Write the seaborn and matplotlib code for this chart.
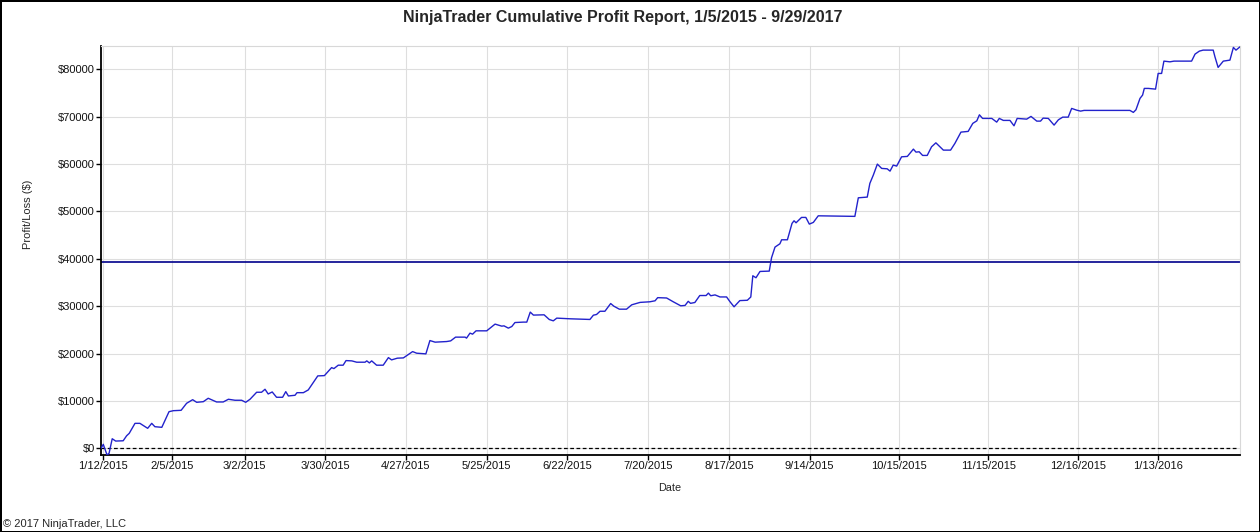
import pandas as pd
import numpy as np
import seaborn as sns
import matplotlib.pyplot as plt
import matplotlib.dates as mdates

# cumulative profit (days counted from 1/12/2015)
start = "2015-01-12"
day = [-0.8, 0, 1.3, 2, 3.1, 4.3, 6.9, 8.1, 9, 11, 12.7, 15.4, 16.8, 17.9, 20.3, 22.8, 24.3, 27, 28.9, 31,
       32.4, 34.7, 36.4, 39.3, 41.6, 43.4, 45.7, 48, 49.4, 50.9, 53.2, 54.9, 56.1, 57.2, 58.6, 60.1, 62.2,
       63.3, 64.2, 66.5, 67.2, 69.4, 71.1, 74.4, 76.7, 79.2, 80, 81.5, 83.2, 84.2, 86.2, 87.9, 90.8, 91.4,
       92.3, 93.1, 94.8, 97.1, 98.9, 100, 102, 104.1, 107.3, 108.7, 111.9, 113.3, 115.1, 119.1, 120.5,
       122.2, 125.5, 126, 127.2, 128.1, 129.3, 133, 135.9, 138.2, 139, 140.5, 141.7, 142.8, 145.7, 146.9,
       148.1, 149.2, 152.9, 154.7, 156.1, 157.3, 161.9, 168.8, 170, 171.1, 172.3, 174, 176, 177.1, 179,
       181.5, 183.3, 186.2, 189.6, 191.4, 192.3, 195.4, 197.7, 200.3, 201.8, 202.9, 203.7, 205.2, 206.9,
       209.1, 209.9, 210.7, 212.2, 213.9, 216.2, 217.4, 218.8, 220.8, 223.4, 224.6, 225.3, 226.4, 227.8,
       231, 231.8, 233, 234.7, 235.3, 237.3, 238.9, 239.6, 240.3, 242.2, 243.7, 244.9, 246.3, 248, 260.7,
       261.9, 265, 265.9, 267.1, 268.5, 270, 271.9, 272.9, 274, 275.2, 276.9, 278.9, 281, 281.9, 283,
       284.2, 285.8, 287.3, 288.8, 291.4, 293.9, 295.4, 297.5, 300, 301.6, 303, 303.9, 305, 308.2, 309.9,
       310.8, 312.2, 314.5, 315.9, 317, 320.3, 321.8, 323.8, 325.1, 326, 327.8, 329.8, 331.3, 332.8, 334.7,
       335.9, 337.6, 339, 340.2, 356.1, 357.3, 358.2, 359.6, 360.5, 361.1, 362.5, 365, 365.9, 367.1, 367.9,
       370, 371.4, 377.5, 378.7, 380.2, 381.5, 385, 385.6, 386.7, 388.5, 390.8, 392, 392.9, 394.3]
profit = [0, 850, -1400, -1050, 2030, 1540, 1600, 2660, 3170, 5280, 5280, 4230, 5280, 4570, 4440, 7740, 7950,
          8030, 9510, 10270, 9720, 9850, 10570, 9790, 9790, 10360, 10150, 10150, 9720, 10360, 11840, 11840,
          12470, 11480, 11900, 10780, 10780, 11970, 11060, 11200, 11750, 11750, 12330, 15290, 15350, 17040,
          16830, 17550, 17550, 18520, 18460, 18180, 18180, 18460, 18030, 18460, 17550, 17550, 19150, 18670,
          19030, 19090, 20420, 20080, 19940, 22750, 22410, 22540, 22680, 23470, 23470, 23260, 24310, 24100,
          24800, 24800, 26220, 25790, 25850, 25370, 25710, 26550, 26640, 26640, 28750, 28120, 28180, 27190,
          26910, 27480, 27340, 27200, 28100, 28250, 28930, 28930, 30560, 30000, 29370, 29370, 30290, 30800,
          30930, 31140, 31800, 31730, 30930, 30080, 30160, 31030, 30600, 30780, 32250, 32250, 32760, 32200,
          32380, 31950, 31950, 30930, 29870, 31180, 31250, 31940, 36420, 36000, 37330, 37400, 40230, 42470,
          43170, 44010, 44010, 47470, 48020, 47600, 48730, 48730, 47320, 47680, 49070, 48950, 52870, 53020,
          55910, 57660, 59980, 59070, 58990, 58500, 59770, 59560, 61520, 61600, 63140, 62510, 62580, 61810,
          61810, 63630, 64470, 62930, 62930, 64350, 66730, 66880, 68570, 69110, 70380, 69620, 69620, 68840,
          69620, 69200, 69200, 68060, 69620, 69470, 70040, 69050, 69050, 69680, 69620, 68210, 69330, 69890,
          69890, 71730, 71370, 71160, 71310, 71310, 70890, 71440, 73840, 74540, 75950, 75950, 75800, 79110,
          79110, 81710, 81560, 81710, 81710, 83190, 83820, 84030, 84030, 82620, 80380, 81710, 81920, 84600,
          84030, 84730]
avg_line = 39300

tick_dates = ["2015-01-12", "2015-02-05", "2015-03-02", "2015-03-30", "2015-04-27", "2015-05-25",
              "2015-06-22", "2015-07-20", "2015-08-17", "2015-09-14", "2015-10-15", "2015-11-15",
              "2015-12-16", "2016-01-13"]
tick_labels = ["1/12/2015", "2/5/2015", "3/2/2015", "3/30/2015", "4/27/2015", "5/25/2015", "6/22/2015",
               "7/20/2015", "8/17/2015", "9/14/2015", "10/15/2015", "11/15/2015", "12/16/2015", "1/13/2016"]
y_ticks = [0, 10000, 20000, 30000, 40000, 50000, 60000, 70000, 80000]

df = pd.DataFrame({"Date": pd.Timestamp(start) + pd.to_timedelta(day, unit="D"), "Profit": profit})

sns.set_style("whitegrid")
plt.rcParams['font.family'] = ['Liberation Sans', 'DejaVu Sans']

fig = plt.figure(figsize=(12.6, 5.32), dpi=100)
fig.patch.set_edgecolor("black")
fig.patch.set_linewidth(2)
ax = fig.add_axes([101/1260, 1 - 455/532, (1240-101)/1260, (455-46)/532])

ax.axhline(0, color="black", linestyle=(0, (3, 2)), linewidth=0.9, xmax=0.997, zorder=2)
ax.axhline(avg_line, color="#00008b", linewidth=1.2, zorder=2)
sns.lineplot(data=df, x="Date", y="Profit", color="#2222cc", linewidth=1.0, estimator=None, sort=False, ax=ax, zorder=3)

ax.set_xlim(pd.Timestamp("2015-01-11 05:00"), pd.Timestamp("2016-02-10 07:00"))
ax.set_ylim(-1400, 84900)
ax.set_xticks(pd.to_datetime(tick_dates))
ax.set_xticklabels(tick_labels)
ax.set_yticks(y_ticks)
ax.set_yticklabels(["$" + str(v) for v in y_ticks])

ax.grid(True, color="#dedede", linewidth=0.8)
for s in ["top", "right"]:
    ax.spines[s].set_color("#d8d8d8")
    ax.spines[s].set_linewidth(0.8)
for s in ["left", "bottom"]:
    ax.spines[s].set_color("black")
    ax.spines[s].set_linewidth(1.3)
ax.tick_params(axis="both", which="major", length=3.5, width=1, color="black", labelsize=8, pad=1,
               bottom=True, left=True, labelcolor="#111111")
ax.set_xlabel("")
ax.set_ylabel("")

fig.text(0.494, 0.968, "NinjaTrader Cumulative Profit Report, 1/5/2015 - 9/29/2017", ha="center", va="center",
         fontsize=11.5, fontweight="bold")
fig.text(670/1260, 1 - 488/532, "Date", ha="center", va="center", fontsize=7.8)
fig.text(28/1260, 1 - 214/532, "Profit/Loss ($)", ha="center", va="center", rotation=90, fontsize=8)
fig.text(3/1260, 1 - 524/532, "\u00a9 2017 NinjaTrader, LLC", ha="left", va="center", fontsize=8)

fig.savefig("out.png", dpi=100, edgecolor=fig.get_edgecolor())
